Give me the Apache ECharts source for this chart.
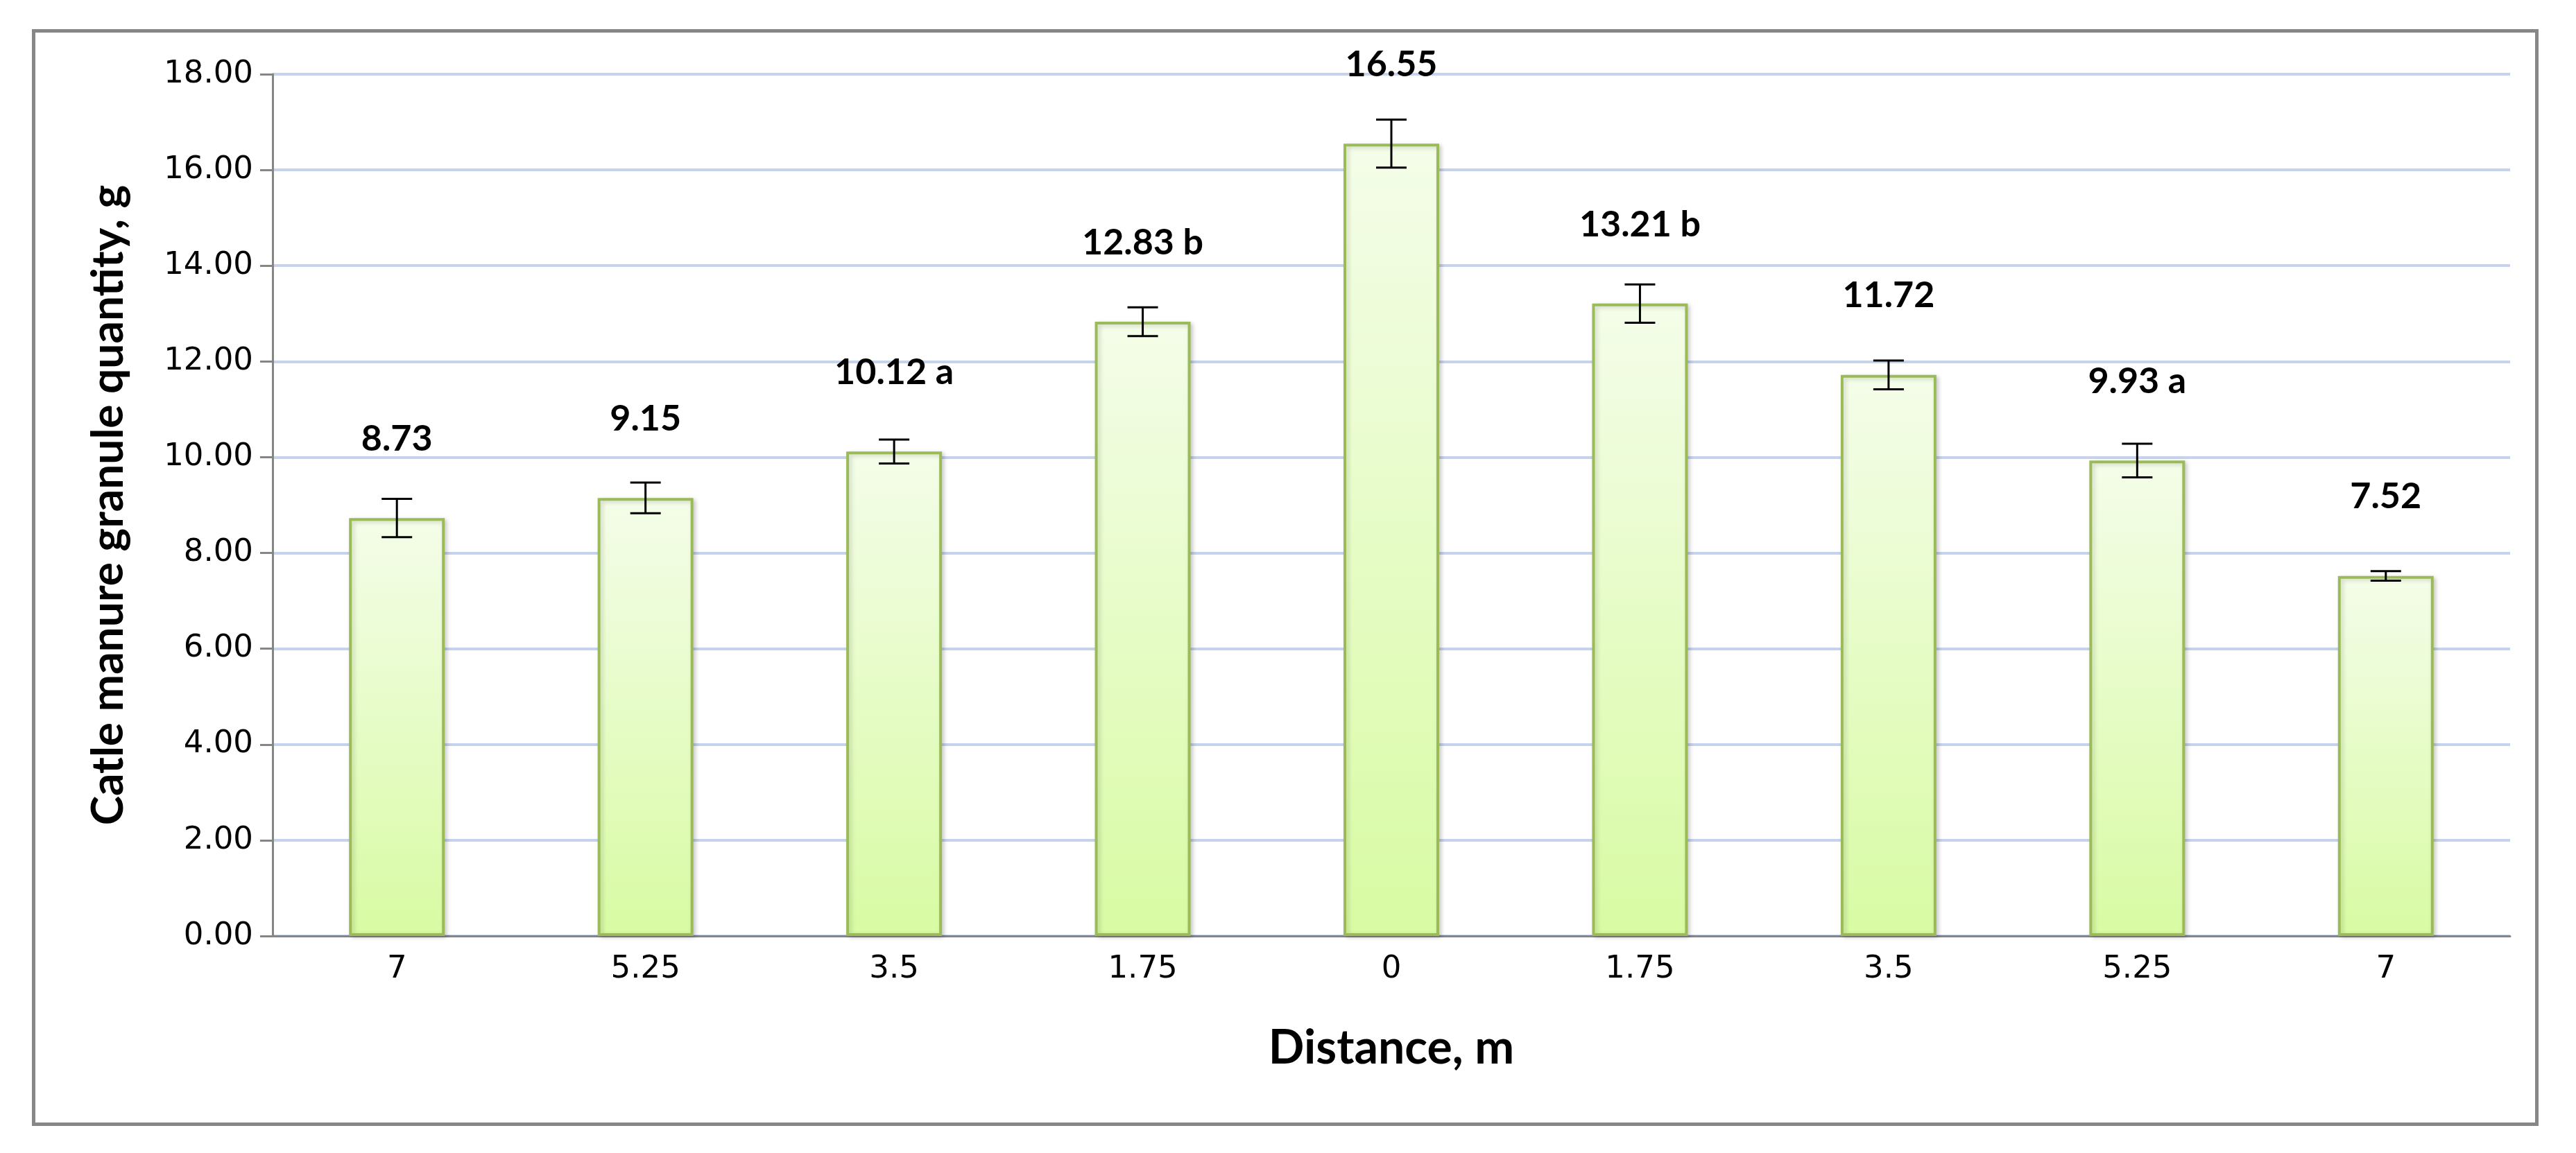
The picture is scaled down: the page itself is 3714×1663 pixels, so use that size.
<!DOCTYPE html>
<html>
<head>
<meta charset="utf-8">
<script src="https://cdn.jsdelivr.net/npm/echarts@6/dist/echarts.min.js"></script>
<style>
  html, body { margin: 0; padding: 0; background: #fff; }
  #frame { position: absolute; left: 46px; top: 42px; width: 3614px; height: 1582px; border: 5px solid #878787; box-sizing: border-box; }
  #chart { width: 3714px; height: 1663px; }
</style>
</head>
<body>
<div id="frame"></div>
<div id="chart"></div>
<script>
// distances from the centre line, m
var categories = ['7', '5.25', '3.5', '1.75', '0', '1.75', '3.5', '5.25', '7'];
// mean granule quantity, g
var values = [8.73, 9.15, 10.12, 12.83, 16.55, 13.21, 11.72, 9.93, 7.52];
// +/- error
var errors = [0.40, 0.32, 0.25, 0.30, 0.50, 0.40, 0.30, 0.35, 0.10];
// significance letters shown after the value
var letters = ['', '', 'a', 'b', '', 'b', '', 'a', ''];
var yTicks = { min: 0, max: 18, interval: 2 };

var chart = echarts.init(document.getElementById('chart'));

var errData = values.map(function (v, i) {
  return [i, v - errors[i], v + errors[i]];
});

var option = {
  animation: false,
  grid: { left: 393, right: 95, top: 107, bottom: 313 },
  xAxis: {
    type: 'category',
    data: categories,
    name: 'Distance, m',
    nameLocation: 'middle',
    nameGap: 128,
    nameTextStyle: { fontFamily: 'Lato', fontWeight: 'bold', fontSize: 68, color: '#000' },
    axisLine: { lineStyle: { color: '#868686', width: 3 } },
    axisTick: { length: 18, lineStyle: { color: '#868686', width: 3 } },
    axisLabel: { fontFamily: 'DejaVu Sans', fontSize: 45, color: '#000', margin: 26 }
  },
  yAxis: {
    type: 'value',
    min: yTicks.min,
    max: yTicks.max,
    interval: yTicks.interval,
    name: 'Catle manure granule quantity, g',
    nameLocation: 'middle',
    nameGap: 205,
    nameTextStyle: { fontFamily: 'Lato', fontWeight: 'bold', fontSize: 64, color: '#000' },
    axisLine: { show: true, lineStyle: { color: '#868686', width: 3 } },
    axisTick: { show: true, length: 18, lineStyle: { color: '#868686', width: 3 } },
    axisLabel: {
      fontFamily: 'DejaVu Sans', fontSize: 45, color: '#000', margin: 28,
      formatter: function (v) { return v.toFixed(2); }
    },
    splitLine: { lineStyle: { color: '#c6d3ec', width: 4 } }
  },
  series: [
    {
      type: 'bar',
      barWidth: '38.5%',
      data: values,
      itemStyle: {
        color: new echarts.graphic.LinearGradient(0, 0, 0, 1, [
          { offset: 0, color: '#f4fde9' },
          { offset: 1, color: '#d8fba3' }
        ]),
        borderColor: '#9bbb59',
        borderWidth: 4,
        shadowColor: 'rgba(0,0,0,0.18)',
        shadowBlur: 6,
        shadowOffsetX: 3,
        shadowOffsetY: 2
      },
      label: {
        show: true,
        position: 'top',
        distance: 88,
        fontFamily: 'Lato',
        fontWeight: 'bold',
        fontSize: 52,
        color: '#000',
        formatter: function (p) {
          var l = letters[p.dataIndex];
          return p.value.toFixed(2) + (l ? ' ' + l : '');
        }
      }
    },
    {
      type: 'custom',
      data: errData,
      z: 10,
      renderItem: function (params, api) {
        var x = api.value(0);
        var lo = api.coord([x, api.value(1)]);
        var hi = api.coord([x, api.value(2)]);
        var w = 22;
        var st = { stroke: '#000', lineWidth: 3 };
        return {
          type: 'group',
          children: [
            { type: 'line', shape: { x1: hi[0], y1: hi[1], x2: lo[0], y2: lo[1] }, style: st },
            { type: 'line', shape: { x1: hi[0] - w, y1: hi[1], x2: hi[0] + w, y2: hi[1] }, style: st },
            { type: 'line', shape: { x1: lo[0] - w, y1: lo[1], x2: lo[0] + w, y2: lo[1] }, style: st }
          ]
        };
      }
    }
  ]
};

chart.setOption(option);
</script>
</body>
</html>
